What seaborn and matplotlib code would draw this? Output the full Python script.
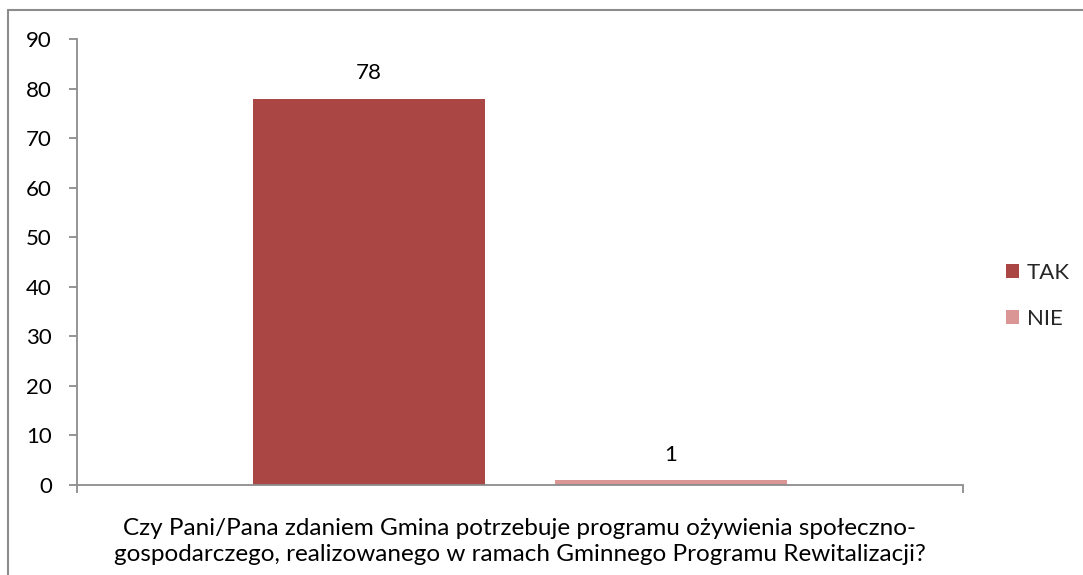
import pandas as pd
import numpy as np
import matplotlib
matplotlib.use('Agg')
import matplotlib.pyplot as plt
import seaborn as sns
from matplotlib.lines import Line2D

# Data
question = ['Czy Pani/Pana zdaniem Gmina potrzebuje programu ożywienia społeczno-\n'
            'gospodarczego, realizowanego w ramach Gminnego Programu Rewitalizacji?']
answers = ['TAK', 'NIE']
counts = [78, 1]
colors = ['#AA4644', '#D99694']
yticks = [0, 10, 20, 30, 40, 50, 60, 70, 80, 90]

df = pd.DataFrame({
    'pytanie': question * len(answers),
    'odpowiedz': answers,
    'liczba': counts,
})

sns.set_theme(style='white')
plt.rcParams['font.family'] = ['Lato', 'DejaVu Sans']

fig = plt.figure(figsize=(10.83, 5.75), dpi=100)
ax = fig.add_axes([0.0711, 0.1565, 0.818, 0.7755])

sns.barplot(data=df, x='pytanie', y='liczba', hue='odpowiedz',
            palette=colors, saturation=1, width=0.682, gap=0.232, ax=ax,
            edgecolor='none', linewidth=0)

for cont in ax.containers:
    ax.bar_label(cont, padding=11, fontsize=16, color='black')

ax.set_xlim(-0.5, 0.5)
ax.set_ylim(0, 90)
ax.set_yticks(yticks)
ax.set_xlabel('')
ax.set_ylabel('')

for side in ['top', 'right']:
    ax.spines[side].set_visible(False)
for side in ['left', 'bottom']:
    ax.spines[side].set_color('#8c8c8c')
    ax.spines[side].set_linewidth(1.3)

ax.tick_params(axis='y', direction='out', length=6, width=1.3, color='#8c8c8c',
               labelsize=16, labelcolor='black', pad=12, left=True)
ax.tick_params(axis='x', which='major', length=0, labelsize=17.5,
               labelcolor='black', pad=24)
ax.set_xticks([-0.5, 0.5], minor=True)
ax.tick_params(axis='x', which='minor', direction='out', length=6, width=1.3,
               color='#8c8c8c', bottom=True)
for lbl in ax.get_xticklabels():
    lbl.set_linespacing(1.25)

ax.legend(loc='center left', bbox_to_anchor=(0.929, 0.485), bbox_transform=fig.transFigure,
          frameon=False, fontsize=16, handlelength=0.58, handleheight=0.58,
          handletextpad=0.36, labelspacing=1.16, borderaxespad=0, borderpad=0)

# outer frame (only top and left edges visible)
fig.add_artist(Line2D([8 / 1083, 1], [1 - 10 / 575, 1 - 10 / 575],
                      transform=fig.transFigure, color='#8c8c8c', lw=1.5))
fig.add_artist(Line2D([8 / 1083, 8 / 1083], [0, 1 - 10 / 575],
                      transform=fig.transFigure, color='#8c8c8c', lw=1.5))

fig.savefig('out.png', dpi=100)
plt.close()
